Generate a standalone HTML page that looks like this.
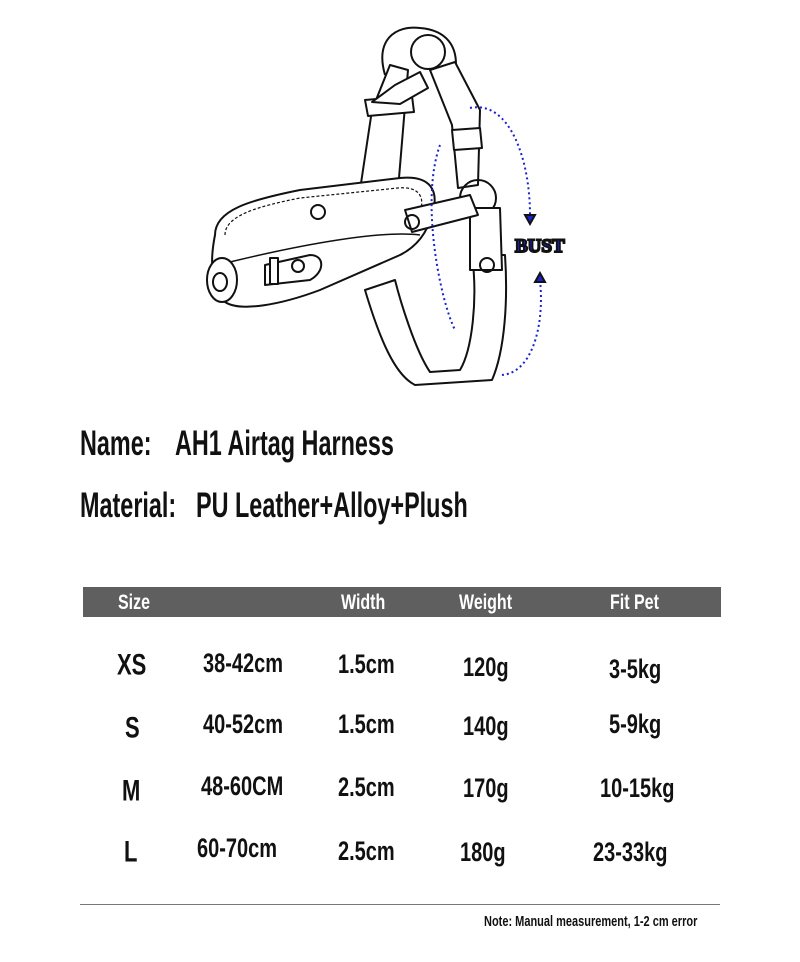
<!DOCTYPE html>
<html><head><meta charset="utf-8"><style>
body{margin:0;background:#fff;}
#c{position:relative;width:800px;height:962px;overflow:hidden;background:#fff;font-family:"Liberation Sans Narrow","Liberation Sans",sans-serif;font-weight:bold;color:#111;}
.t{position:absolute;white-space:nowrap;transform-origin:0 50%;transform:scale(0.9,1.35);line-height:1;}
.hb{position:absolute;left:83px;top:587px;width:638px;height:30px;background:#5f5f5f;}
.h{position:absolute;color:#fff;font-size:16px;top:595px;transform:scaleY(1.3);transform-origin:0 50%;white-space:nowrap;}
.r{position:absolute;font-size:20px;transform:scaleY(1.35);transform-origin:0 50%;white-space:nowrap;}
</style></head><body><div id="c">
<svg width="800" height="400" style="position:absolute;left:0;top:0" fill="none" stroke="#111" stroke-width="2">
<g stroke-linejoin="round">
<path d="M385 75 C375 40 395 25 420 28 C445 30 460 45 455 75"/>
<circle cx="428" cy="52" r="17"/>
<path d="M360 190 L372 110 L390 65 L408 70 L398 190 Z" fill="#fff"/>
<path d="M430 70 L455 62 L480 110 L478 185 L458 188 L452 125 Z" fill="#fff"/>
<path d="M365 100 L412 96 L414 112 L368 116 Z" fill="#fff"/>
<path d="M452 130 L480 128 L482 148 L454 150 Z" fill="#fff"/>
<path d="M372 102 L395 85 L420 72 L428 88 L400 104 Z" fill="#fff"/>
<circle cx="478" cy="198" r="18"/>
<path d="M365 290 C380 340 395 375 415 385 L492 380 C505 350 508 300 505 255 L472 255 C478 300 472 350 460 370 L430 372 C415 350 400 300 395 280 Z" fill="#fff"/>
<path d="M470 208 L500 208 L502 270 L470 270 Z" fill="#fff"/>
<circle cx="487" cy="265" r="7"/>
<path d="M215 235 C215 210 250 200 300 190 L400 178 C430 175 440 190 432 215 C425 240 410 250 400 255 L320 290 C280 305 240 312 225 302 C210 285 210 260 215 235 Z" fill="#fff"/>
<path d="M225 235 C225 215 260 206 300 198 L398 188 C420 186 425 198 420 212" stroke-dasharray="3 2" stroke-width="1.2"/>
<path d="M230 262 C300 245 380 230 420 235" stroke-width="1.5"/>
<path d="M405 210 L470 195 L478 215 L412 232 Z" fill="#fff"/>
<circle cx="412" cy="222" r="7"/>
<circle cx="318" cy="212" r="7"/>
<ellipse cx="222" cy="280" rx="15" ry="22" fill="#fff"/>
<ellipse cx="220" cy="282" rx="7" ry="9"/>
<path d="M265 265 L310 255 C325 255 325 272 310 280 L265 285 Z" fill="#fff"/>
<circle cx="298" cy="266" r="6"/>
<rect x="270" y="258" width="8" height="26" fill="#fff"/>
</g>
<g stroke="#1a22d0" stroke-width="2" stroke-dasharray="2 3">
<path d="M470 108 C510 100 530 160 530 215"/>
<path d="M540 280 C545 330 530 375 500 375"/>
<path d="M440 145 C420 200 440 300 455 330"/>
</g>
<path d="M525 215 L535 215 L530 224 Z" fill="#1a22d0"/>
<path d="M535 282 L545 282 L540 273 Z" fill="#1a22d0"/>
<text x="515" y="252" font-family="Liberation Serif,serif" font-weight="bold" font-size="19" fill="#1a22d0">BUST</text>
</svg>
<div class="t" style="left:80px;top:430px;font-size:26px">Name:</div>
<div class="t" style="left:175px;top:430px;font-size:26px">AH1 Airtag Harness</div>
<div class="t" style="left:80px;top:492px;font-size:26px">Material:</div>
<div class="t" style="left:196px;top:492px;font-size:26px">PU Leather+Alloy+Plush</div>
<div class="hb"></div>
<div class="h" style="left:118px">Size</div>
<div class="h" style="left:341px">Width</div>
<div class="h" style="left:459px">Weight</div>
<div class="h" style="left:610px">Fit Pet</div>
<div class="r" style="left:117px;top:652px;font-size:22px">XS</div>
<div class="r" style="left:203px;top:653px">38-42cm</div>
<div class="r" style="left:338px;top:654px">1.5cm</div>
<div class="r" style="left:463px;top:657px">120g</div>
<div class="r" style="left:609px;top:659px">3-5kg</div>
<div class="r" style="left:125px;top:715px;font-size:22px">S</div>
<div class="r" style="left:203px;top:714px">40-52cm</div>
<div class="r" style="left:338px;top:714px">1.5cm</div>
<div class="r" style="left:463px;top:716px">140g</div>
<div class="r" style="left:609px;top:714px">5-9kg</div>
<div class="r" style="left:122px;top:778px;font-size:22px">M</div>
<div class="r" style="left:201px;top:776px">48-60CM</div>
<div class="r" style="left:338px;top:777px">2.5cm</div>
<div class="r" style="left:463px;top:778px">170g</div>
<div class="r" style="left:600px;top:778px">10-15kg</div>
<div class="r" style="left:124px;top:839px;font-size:22px">L</div>
<div class="r" style="left:197px;top:838px">60-70cm</div>
<div class="r" style="left:338px;top:841px">2.5cm</div>
<div class="r" style="left:460px;top:842px">180g</div>
<div class="r" style="left:593px;top:842px">23-33kg</div>
<div style="position:absolute;left:80px;top:904px;width:640px;height:1px;background:#777"></div>
<div class="r" style="left:484px;top:916px;font-size:11px">Note: Manual measurement, 1-2 cm error</div>
</div></body></html>
